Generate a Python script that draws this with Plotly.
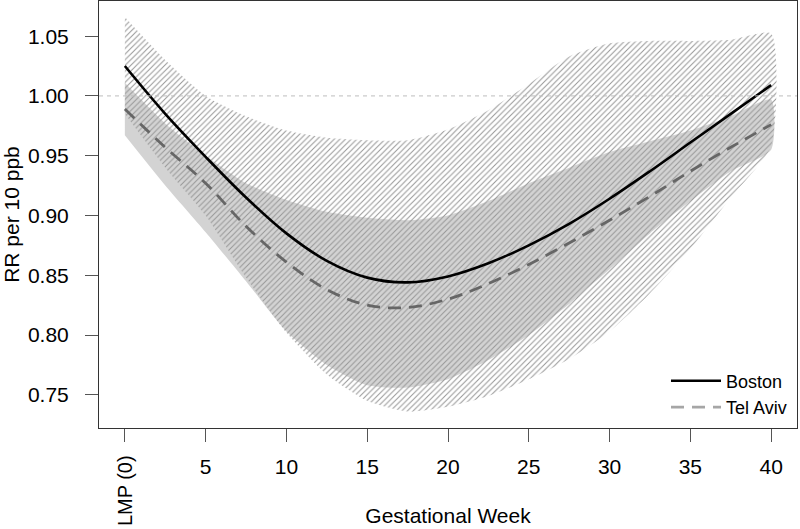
import plotly.graph_objects as go

weeks = [0, 2.5, 5, 7.5, 10, 12.5, 15, 17.5, 20, 22.5, 25, 27.5, 30, 32.5, 35, 37.5, 40]

boston_rr = [1.025, 0.985, 0.949, 0.915, 0.885, 0.862, 0.848, 0.844, 0.849, 0.860, 0.875,
             0.893, 0.914, 0.937, 0.961, 0.985, 1.009]
boston_hi = [1.066, 1.030, 1.000, 0.983, 0.971, 0.965, 0.963, 0.963, 0.972, 0.988, 1.010,
             1.033, 1.044, 1.046, 1.046, 1.047, 1.052]
boston_lo = [0.985, 0.940, 0.900, 0.848, 0.802, 0.767, 0.745, 0.736, 0.740, 0.749, 0.763,
             0.780, 0.803, 0.835, 0.872, 0.915, 0.958]

telaviv_rr = [0.989, 0.957, 0.927, 0.891, 0.861, 0.838, 0.825, 0.823, 0.830, 0.843, 0.859,
              0.877, 0.896, 0.916, 0.937, 0.957, 0.976]
telaviv_hi = [1.011, 0.977, 0.950, 0.927, 0.913, 0.903, 0.898, 0.896, 0.900, 0.912, 0.927,
              0.940, 0.953, 0.962, 0.971, 0.983, 0.997]
telaviv_lo = [0.967, 0.925, 0.886, 0.845, 0.803, 0.775, 0.758, 0.756, 0.763, 0.779, 0.800,
              0.826, 0.855, 0.885, 0.912, 0.937, 0.955]

x_ticks = [0, 5, 10, 15, 20, 25, 30, 35, 40]
x_ticktext = ["", "5", "10", "15", "20", "25", "30", "35", "40"]
y_ticks = [0.75, 0.80, 0.85, 0.90, 0.95, 1.00, 1.05]
y_ticktext = ["0.75", "0.80", "0.85", "0.90", "0.95", "1.00", "1.05"]

FONT = "Liberation Sans, Arial, Helvetica, sans-serif"

fig = go.Figure()

# Tel Aviv CI (solid light gray)
fig.add_trace(go.Scatter(
    x=weeks + weeks[::-1], y=telaviv_hi + telaviv_lo[::-1],
    fill="toself", fillcolor="#d3d3d3", mode="lines",
    line=dict(width=0, shape="spline", smoothing=0.6),
    hoverinfo="skip", showlegend=False))

# Boston CI (hatched)
fig.add_trace(go.Scatter(
    x=weeks + weeks[::-1], y=boston_hi + boston_lo[::-1],
    fill="toself", fillcolor="rgba(0,0,0,0)", mode="lines",
    fillpattern=dict(shape="/", size=4, solidity=0.26, fgcolor="#979797",
                     bgcolor="rgba(0,0,0,0)", fillmode="replace"),
    line=dict(width=0, shape="spline", smoothing=0.6),
    hoverinfo="skip", showlegend=False))

# Boston RR
fig.add_trace(go.Scatter(
    x=weeks, y=boston_rr, mode="lines",
    line=dict(color="black", width=2.6, shape="spline"),
    showlegend=False))

# Tel Aviv RR
fig.add_trace(go.Scatter(
    x=weeks, y=telaviv_rr, mode="lines",
    line=dict(color="#666666", width=2.8, dash="13px,8px", shape="spline"),
    showlegend=False))

# Legend entries
fig.add_trace(go.Scatter(
    x=[None], y=[None], mode="lines", name="Boston",
    line=dict(color="black", width=2.6)))
fig.add_trace(go.Scatter(
    x=[None], y=[None], mode="lines", name="Tel Aviv",
    line=dict(color="#a6a6a6", width=2.8, dash="13px,8px")))

fig.add_hline(y=1.0, line=dict(color="#bdbdbd", width=1, dash="4px,4px"), layer="above")

fig.add_annotation(
    x=0, xref="x", y=-0.058, yref="paper", text="LMP (0)", showarrow=False,
    textangle=-90, xanchor="center", yanchor="top",
    font=dict(family=FONT, size=20, color="black"))

axis_common = dict(
    showgrid=False, zeroline=False, showline=True, mirror=True,
    linecolor="#333333", linewidth=1, ticks="outside", ticklen=13,
    tickcolor="#555555", tickwidth=1, automargin=False,
    tickfont=dict(family=FONT, size=21, color="black"),
)

fig.update_layout(
    width=800, height=529,
    margin=dict(l=99, r=3, t=1, b=101),
    paper_bgcolor="white", plot_bgcolor="white",
    font=dict(family=FONT, size=21, color="black"),
    xaxis=dict(range=[-1.6, 41.6], tickvals=x_ticks, ticktext=x_ticktext,
               ticklabelstandoff=7,
               title=dict(text="Gestational Week", standoff=31,
                          font=dict(family=FONT, size=21)),
               **axis_common),
    yaxis=dict(range=[0.7222, 1.0794], tickvals=y_ticks, ticktext=y_ticktext,
               ticklabelstandoff=12,
               title=dict(text="RR per 10 ppb", standoff=8,
                          font=dict(family=FONT, size=21)),
               **axis_common),
    legend=dict(x=0.8123, y=0.1534, xanchor="left", yanchor="top",
                bgcolor="rgba(0,0,0,0)", borderwidth=0,
                font=dict(family=FONT, size=18, color="black"),
                itemwidth=50, tracegroupgap=0),
    showlegend=True,
)

fig.write_html("out.html",
               config={"displayModeBar": False},
               post_script="document.body.style.margin='0px';document.body.style.padding='0px';")
